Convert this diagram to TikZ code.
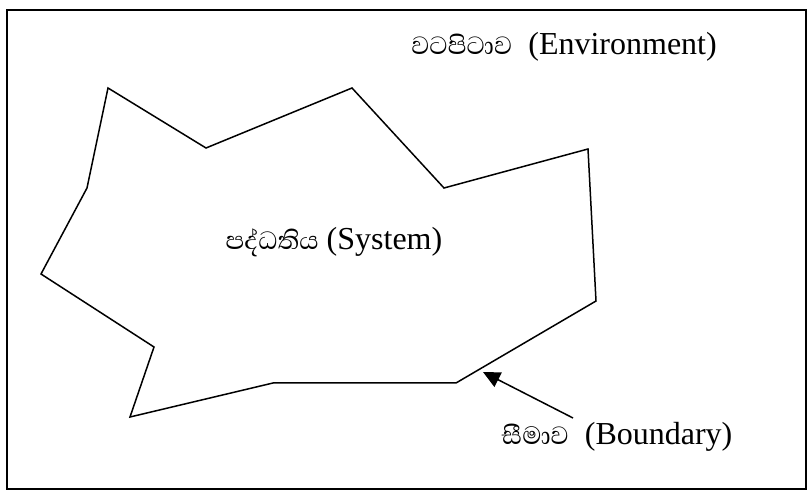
\documentclass[tikz,border=0pt]{standalone}
\usepackage{fontspec}
\setmainfont{Liberation Serif}
\newfontfamily\sinhala[Script=Sinhala]{Abhaya Libre}
\usepackage{tikz}
\usetikzlibrary{calc,arrows.meta,positioning}

\begin{document}
\begin{tikzpicture}[x=0.5pt,y=-0.5pt,
      lbl/.style={font=\fontsize{16}{19}\selectfont,inner sep=0pt,anchor=center},
      edge/.style={line width=0.75pt,line join=miter},
      ptr/.style={line width=0.75pt,-{Triangle[length=8.5pt,width=8pt]}}]
    \useasboundingbox (0,0) rectangle (808,491);
    \draw[line width=1pt] (7,10) rectangle (806,489);
    % system outline
    \draw[edge] (108,88) -- (206,148) -- (352,88) -- (444,188) -- (588,149)
      -- (596,301) -- (456,383) -- (273,383) -- (130,417) -- (154,347)
      -- (41,274) -- (87,188) -- cycle;
    \node[lbl] (env) at (564,47)  {{\sinhala වටපිටාව}\ \ (Environment)};
    \node[lbl] (sys) at (334,242) {{\sinhala පද්ධතිය} (System)};
    \node[lbl] (bnd) at (617,437) {{\sinhala සීමාව}\ \ (Boundary)};
    \coordinate (tip)  at (483,372);
    \coordinate (tail) at (573,418);
    \draw[ptr] (tail) -- (tip);
  \end{tikzpicture}
\end{document}
